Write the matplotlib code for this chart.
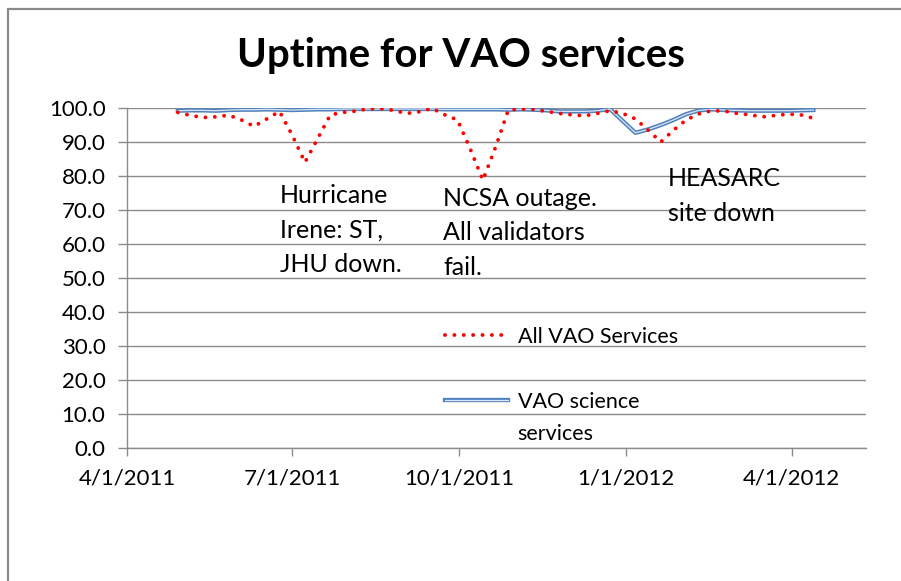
import datetime as dt
import matplotlib
matplotlib.use("Agg")
import matplotlib.pyplot as plt
from matplotlib.lines import Line2D
from matplotlib.patches import Rectangle
import pandas as pd

plt.rcParams["font.family"] = ["Lato", "DejaVu Sans"]

# weekly uptime samples, 4/29/2011 .. 4/13/2012
weeks = pd.date_range("2011-04-29", "2012-04-13", freq="7D")

all_vao = [98.7, 97.8, 97.2, 97.4, 97.9, 96.5, 94.6, 96.8, 99.0, 92.0,
           84.0, 91.0, 98.0, 98.7, 99.1, 99.8, 99.8, 99.3, 98.4, 98.9,
           99.9, 98.0, 96.5, 88.0, 78.8, 88.5, 99.4, 99.7, 99.6, 99.0,
           98.4, 98.0, 97.7, 98.4, 99.2, 98.4, 96.8, 93.5, 90.0, 93.5,
           96.5, 98.3, 99.2, 99.1, 98.4, 98.0, 97.4, 97.8, 98.2, 98.0,
           97.0]
science = [99.2, 99.3, 99.3, 99.2, 99.4, 99.5, 99.5, 99.6, 99.5, 99.4,
           99.5, 99.6, 99.6, 99.7, 99.7, 99.7, 99.7, 99.7, 99.7, 99.7,
           99.7, 99.6, 99.6, 99.6, 99.6, 99.6, 99.5, 99.6, 99.5, 99.3,
           99.0, 99.0, 99.0, 99.2, 99.7, 96.2, 92.7, 93.7, 95.0, 96.5,
           98.2, 99.3, 99.6, 99.4, 99.3, 99.2, 99.2, 99.2, 99.2, 99.3,
           99.4]
other_dates = pd.to_datetime(["2011-06-24", "2011-07-01", "2011-07-08"])
other_vals = [100.0, 100.0, 100.0]

xtick_dates = pd.to_datetime(["2011-04-01", "2011-07-01", "2011-10-01",
                              "2012-01-01", "2012-04-01"])
xtick_labels = ["4/1/2011", "7/1/2011", "10/1/2011", "1/1/2012", "4/1/2012"]
yticks = list(range(0, 101, 10))

notes = [("2011-06-24", 77.6, "Hurricane\nIrene: ST,\nJHU down."),
         ("2011-09-22", 76.8, "NCSA outage.\nAll validators\nfail."),
         ("2012-01-24", 82.5, "HEASARC\nsite down")]

TICK_FS = 16
NOTE_FS = 18
LEG_FS = 15.5
GRID = "#8c8c8c"

fig = plt.figure(figsize=(9.01, 5.81), dpi=100)
ax = fig.add_axes([127 / 901, 1 - 448 / 581, 739 / 901, 340 / 581])

ax.plot(other_dates, other_vals, color="#9bbb59", lw=3.0, zorder=3)
blue_out, = ax.plot(weeks, science, color="#4f81bd", lw=3.1, zorder=4,
                    solid_joinstyle="round")
blue_in, = ax.plot(weeks, science, color="#dce6f2", lw=0.9, zorder=5)
red, = ax.plot(weeks, all_vao, color="#ff0000", lw=2.8, zorder=6,
               ls=(0, (0.01, 2.4)), dash_capstyle="round")

ax.set_ylim(0, 100)
ax.set_xlim(pd.Timestamp("2011-04-01"), pd.Timestamp("2012-05-12"))
ax.set_yticks(yticks)
ax.set_yticklabels([f"{v:.1f}" for v in yticks])
ax.set_xticks(xtick_dates)
ax.set_xticklabels(xtick_labels)
ax.yaxis.grid(True, color=GRID, lw=1.0)
ax.set_axisbelow(True)
for s in ["top", "right"]:
    ax.spines[s].set_visible(False)
for s in ["left", "bottom"]:
    ax.spines[s].set_color(GRID)
    ax.spines[s].set_linewidth(1.0)
ax.tick_params(axis="y", length=6.5, width=1.0, color=GRID, pad=9,
               labelsize=TICK_FS, labelcolor="black")
ax.tick_params(axis="x", length=5.8, width=1.0, color=GRID, pad=9,
               labelsize=TICK_FS, labelcolor="black")

for d, y, txt in notes:
    ax.text(pd.Timestamp(d), y, txt, fontsize=NOTE_FS, va="top", ha="left",
            linespacing=1.6, zorder=7)

# legend: blank rows keep the Excel spacing (2nd label wraps onto 2 lines)
blank = Line2D([], [], color="none")
leg = ax.legend([red, blank, (blue_out, blue_in), blank],
                ["All VAO Services", " ", "VAO science", "services"],
                loc="upper left", bbox_to_anchor=(0.43, 0.356),
                frameon=False, fontsize=LEG_FS, handlelength=2.93,
                handletextpad=0.46, labelspacing=0.57, borderpad=0,
                borderaxespad=0)

fig.text(0.512, 1 - 67 / 581, "Uptime for VAO services", fontsize=29,
         fontweight="bold", ha="center", va="baseline")

fig.patches.append(Rectangle((8 / 901, -0.1), 1.2, 1.1 - 9 / 581,
                             transform=fig.transFigure, fill=False,
                             edgecolor="#8a8a8a", lw=1.6))

fig.savefig("out.png", dpi=100, facecolor="white")
